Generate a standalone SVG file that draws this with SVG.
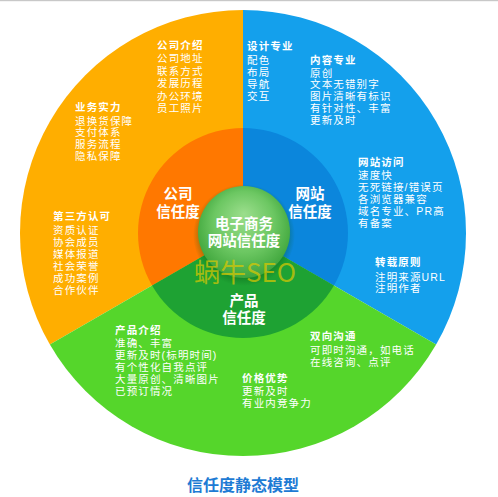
<svg xmlns="http://www.w3.org/2000/svg" width="498" height="497" viewBox="0 0 498 497">
<defs>
<radialGradient id="sph" cx="0.5" cy="0.45" r="0.55" fx="0.5" fy="0.3">
<stop offset="0" stop-color="#9BDE8C"/>
<stop offset="0.6" stop-color="#6CC762"/>
<stop offset="1" stop-color="#3FA63C"/>
</radialGradient>
<radialGradient id="shd" cx="0.5" cy="0.5" r="0.5">
<stop offset="0.8" stop-color="#0A5A14" stop-opacity="0.45"/>
<stop offset="1" stop-color="#0A5A14" stop-opacity="0"/>
</radialGradient>
</defs>
<style>
.t{font-family:"Liberation Sans","Noto Sans CJK SC",sans-serif;font-size:10.5px;letter-spacing:1.15px;fill:#fff}
.h{font-weight:bold}
.m{font-family:"Liberation Sans","Noto Sans CJK SC",sans-serif;font-size:14.5px;fill:#fff;font-weight:bold;text-anchor:middle}
</style>
<rect x="0" y="0" width="498" height="497" fill="#fff"/>
<rect x="0" y="0" width="498" height="1.2" fill="#C8C8C8"/>
<g id="outer-company">
<path d="M243,233 L243,10 A223,223 0 0,0 49.87,344.5 Z" fill="#FFAE00"/>
</g>
<g id="outer-website">
<path d="M243,233 L243,10 A223,223 0 0,1 436.13,344.5 Z" fill="#14A0EC"/>
</g>
<g id="outer-product">
<path d="M243,233 L436.13,344.5 A223,223 0 0,1 49.87,344.5 Z" fill="#55D62B"/>
</g>
<g id="company-trust">
<path d="M243,233 L243,128 A105,105 0 0,0 152.07,285.5 Z" fill="#FF7800"/>
<text class="m" x="178" y="199">公司<tspan x="178" dy="18">信任度</tspan></text>
</g>
<g id="website-trust">
<path d="M243,233 L243,128 A105,105 0 0,1 333.93,285.5 Z" fill="#0B86DC"/>
<text class="m" x="310" y="199">网站<tspan x="310" dy="18">信任度</tspan></text>
</g>
<g id="product-trust">
<path d="M243,233 L333.93,285.5 A105,105 0 0,1 152.07,285.5 Z" fill="#1EA233"/>
<text class="m" x="244" y="306">产品<tspan x="244" dy="17">信任度</tspan></text>
</g>
<g id="center">
<circle cx="244" cy="235" r="51" fill="url(#shd)"/>
<circle cx="244" cy="232" r="46" fill="url(#sph)"/>
<text class="m" x="244" y="229" style="font-weight:600">电子商务<tspan x="244" dy="17">网站信任度</tspan></text>
</g>
<g id="watermark">
<text x="245" y="282" text-anchor="middle" font-family="'Noto Sans CJK SC','Noto Sans',sans-serif" font-size="26" fill="#E0C800" fill-opacity="0.7">蜗牛SEO</text>
</g>
<g id="company-intro">
<text class="t" x="157" y="49"><tspan class="h">公司介绍</tspan><tspan x="157" dy="13">公司地址</tspan><tspan x="157" dy="12.5">联系方式</tspan><tspan x="157" dy="12.5">发展历程</tspan><tspan x="157" dy="12.5">办公环境</tspan><tspan x="157" dy="12.5">员工照片</tspan></text>
</g>
<g id="design">
<text class="t" x="247" y="50"><tspan class="h">设计专业</tspan><tspan x="247" dy="13.5">配色</tspan><tspan x="247" dy="12.3">布局</tspan><tspan x="247" dy="12.3">导航</tspan><tspan x="247" dy="12.3">交互</tspan></text>
</g>
<g id="content">
<text class="t" x="310" y="64"><tspan class="h">内容专业</tspan><tspan x="310" dy="12.5">原创</tspan><tspan x="310" dy="11.9">文本无错别字</tspan><tspan x="310" dy="11.9">图片清晰有标识</tspan><tspan x="310" dy="11.9">有针对性、丰富</tspan><tspan x="310" dy="11.9">更新及时</tspan></text>
</g>
<g id="business">
<text class="t" x="75" y="111"><tspan class="h">业务实力</tspan><tspan x="75" dy="13.5">退换货保障</tspan><tspan x="75" dy="11.9">支付体系</tspan><tspan x="75" dy="11.9">服务流程</tspan><tspan x="75" dy="11.9">隐私保障</tspan></text>
</g>
<g id="third-party">
<text class="t" x="53" y="220"><tspan class="h">第三方认可</tspan><tspan x="53" dy="14">资质认证</tspan><tspan x="53" dy="11.9">协会成员</tspan><tspan x="53" dy="11.9">媒体报道</tspan><tspan x="53" dy="11.9">社会荣誉</tspan><tspan x="53" dy="11.9">成功案例</tspan><tspan x="53" dy="11.9">合作伙伴</tspan></text>
</g>
<g id="access">
<text class="t" x="358" y="166"><tspan class="h">网站访问</tspan><tspan x="358" dy="13">速度快</tspan><tspan x="358" dy="11.9">无死链接/错误页</tspan><tspan x="358" dy="11.9">各浏览器兼容</tspan><tspan x="358" dy="11.9">域名专业、PR高</tspan><tspan x="358" dy="11.9">有备案</tspan></text>
</g>
<g id="repost">
<text class="t" x="375" y="266"><tspan class="h">转载原则</tspan><tspan x="375" dy="14.5">注明来源URL</tspan><tspan x="375" dy="11.9">注明作者</tspan></text>
</g>
<g id="product-intro">
<text class="t" x="115" y="334"><tspan class="h">产品介绍</tspan><tspan x="115" dy="13">准确、丰富</tspan><tspan x="115" dy="11.9">更新及时(标明时间)</tspan><tspan x="115" dy="11.9">有个性化自我点评</tspan><tspan x="115" dy="11.9">大量原创、清晰图片</tspan><tspan x="115" dy="11.9">已预订情况</tspan></text>
</g>
<g id="communication">
<text class="t" x="310" y="340"><tspan class="h">双向沟通</tspan><tspan x="310" dy="14">可即时沟通，如电话</tspan><tspan x="310" dy="11.9">在线咨询、点评</tspan></text>
</g>
<g id="price">
<text class="t" x="242" y="382"><tspan class="h">价格优势</tspan><tspan x="242" dy="13">更新及时</tspan><tspan x="242" dy="12">有业内竞争力</tspan></text>
</g>
<g id="connectors"></g>
<g id="title">
<text x="243" y="491" text-anchor="middle" font-family="'Noto Sans CJK SC','Noto Sans',sans-serif" font-size="16" font-weight="bold" fill="#1E7BD4">信任度静态模型</text>
</g>
</svg>
